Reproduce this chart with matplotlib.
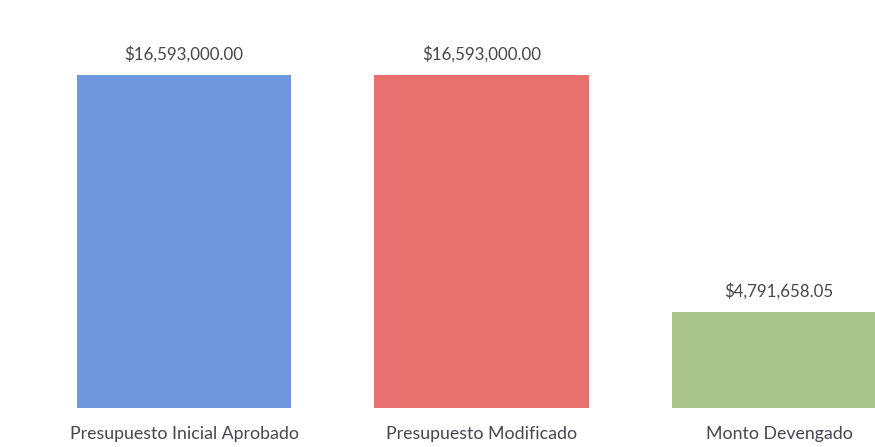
import matplotlib
matplotlib.use("Agg")
import matplotlib.pyplot as plt

categories = ["Presupuesto Inicial Aprobado", "Presupuesto Modificado", "Monto Devengado"]
values = [16593000.00, 16593000.00, 4791658.05]
labels = ["$16,593,000.00", "$16,593,000.00", "$4,791,658.05"]
colors = ["#6e96dc", "#e8706f", "#aac68c"]

plt.rcParams["font.family"] = ["Lato", "DejaVu Sans"]

fig = plt.figure(figsize=(8.75, 4.47), dpi=100)
ax = fig.add_axes([0, 1 - 408 / 447, 1, 408 / 447])
x = list(range(len(categories)))
ax.bar(x, values, width=0.72, color=colors)

ymax = 408 * values[0] / 333
ax.set_ylim(0, ymax)
ax.set_xlim(-184 / 297.5, (875 - 184) / 297.5)

for xi, v, lab in zip(x, values, labels):
    ax.annotate(lab, (xi, v), xytext=(0, 9), textcoords="offset points",
                ha="center", va="bottom", fontsize=12.2, color="#4a4550")
    ax.annotate(categories[xi], (xi, 0), xytext=(0, -13), textcoords="offset points",
                ha="center", va="top", fontsize=12.8, color="#4a4550",
                annotation_clip=False)

ax.axis("off")
fig.savefig("out.png", dpi=100)
